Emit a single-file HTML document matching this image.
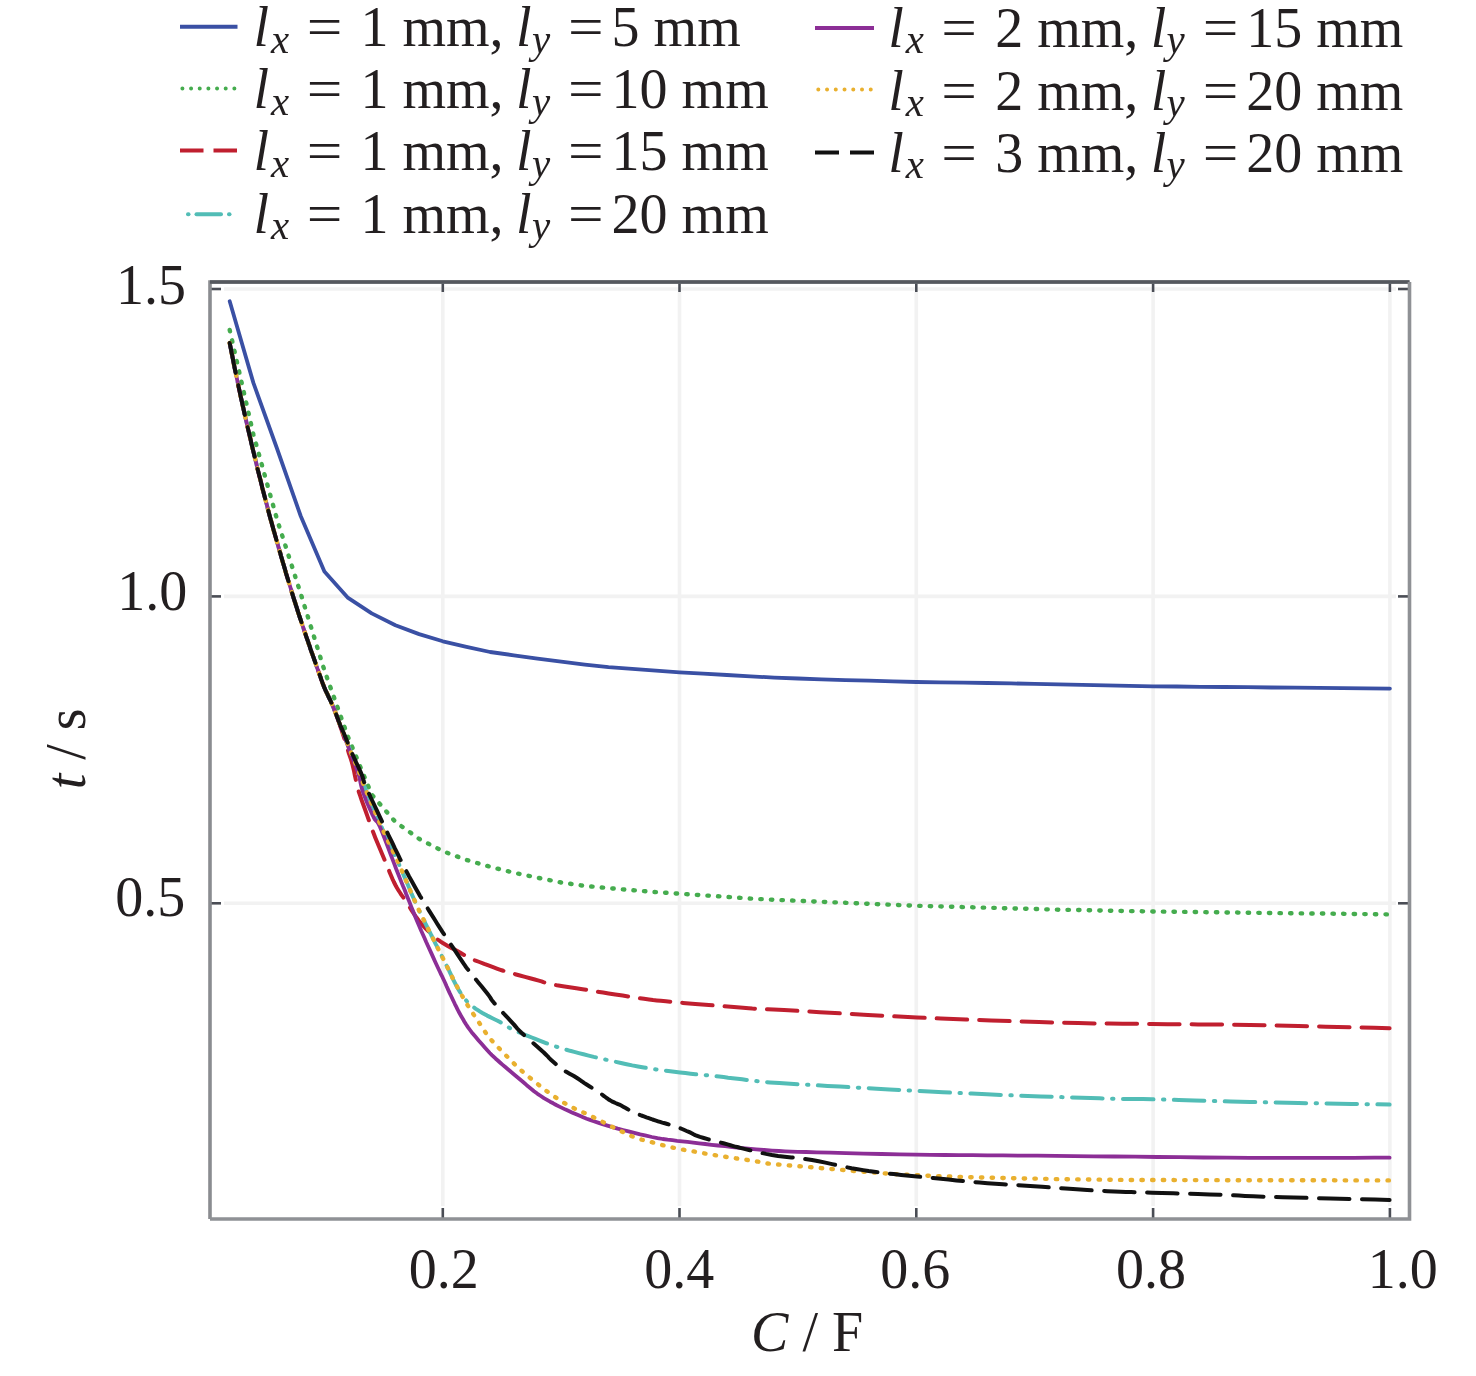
<!DOCTYPE html>
<html><head><meta charset="utf-8"><style>
html,body{margin:0;padding:0;background:#fff;}
svg{display:block;}
text{font-family:"Liberation Serif", "Times New Roman", serif;font-size:56px;fill:#231f20;}
</style></head><body>
<svg width="1476" height="1376" viewBox="0 0 1476 1376">
<rect width="1476" height="1376" fill="#ffffff"/>

<g stroke="#f2f2f2" stroke-width="3.6"><line x1="442.8" y1="292" x2="442.8" y2="1206" /><line x1="679.5" y1="292" x2="679.5" y2="1206" /><line x1="916.3" y1="292" x2="916.3" y2="1206" /><line x1="1153.1" y1="292" x2="1153.1" y2="1206" /><line x1="1389.9" y1="292" x2="1389.9" y2="1206" /><line x1="224" y1="289.0" x2="1396" y2="289.0" /><line x1="224" y1="596.4" x2="1396" y2="596.4" /><line x1="224" y1="903.3" x2="1396" y2="903.3" /></g>
<g stroke="#4a4d55" stroke-width="2.6"><line x1="442.8" y1="283" x2="442.8" y2="292" /><line x1="442.8" y1="1208" x2="442.8" y2="1218" /><line x1="679.5" y1="283" x2="679.5" y2="292" /><line x1="679.5" y1="1208" x2="679.5" y2="1218" /><line x1="916.3" y1="283" x2="916.3" y2="292" /><line x1="916.3" y1="1208" x2="916.3" y2="1218" /><line x1="1153.1" y1="283" x2="1153.1" y2="292" /><line x1="1153.1" y1="1208" x2="1153.1" y2="1218" /><line x1="1389.9" y1="283" x2="1389.9" y2="292" /><line x1="1389.9" y1="1208" x2="1389.9" y2="1218" /><line x1="210" y1="289.0" x2="221" y2="289.0" /><line x1="1398" y1="289.0" x2="1409" y2="289.0" /><line x1="210" y1="596.4" x2="221" y2="596.4" /><line x1="1398" y1="596.4" x2="1409" y2="596.4" /><line x1="210" y1="903.3" x2="221" y2="903.3" /><line x1="1398" y1="903.3" x2="1409" y2="903.3" /></g>
<path d="M210,1219 L210,282 L1409.5,282" fill="none" stroke="#8a8c90" stroke-width="3.6"/>
<path d="M210,282 L1409.5,282" fill="none" stroke="#55585e" stroke-width="3.6"/>
<path d="M1409.5,282 L1409.5,1219 L210,1219" fill="none" stroke="#8f9195" stroke-width="3.6"/>
<path d="M229.7,301.3 L253.4,382.9 L277.0,448.5 L300.7,516.0 L324.4,571.6 L348.1,597.9 L371.7,613.4 L395.4,625.2 L419.1,634.1 L442.8,641.3 L466.5,646.9 L490.1,652.0 L513.8,655.3 L537.5,658.6 L561.2,661.7 L584.8,664.6 L608.5,667.2 L632.2,668.9 L655.9,670.6 L679.6,672.4 L703.2,673.7 L726.9,675.0 L750.6,676.3 L774.3,677.6 L798.0,678.5 L821.6,679.3 L845.3,680.1 L869.0,680.7 L892.7,681.4 L916.3,682.0 L940.0,682.3 L963.7,682.6 L987.4,683.0 L1011.1,683.4 L1034.7,683.9 L1058.4,684.4 L1082.1,684.9 L1105.8,685.4 L1129.4,685.8 L1153.1,686.3 L1176.8,686.5 L1200.5,686.8 L1224.2,687.0 L1247.8,687.2 L1271.5,687.5 L1295.2,687.7 L1318.9,687.9 L1342.5,688.1 L1366.2,688.4 L1389.9,688.6" fill="none" stroke="#3a50a4" stroke-width="3.8" stroke-linejoin="round" stroke-linecap="round"/>
<path d="M229.7,330.0 L253.4,434.5 L277.0,519.3 L300.7,593.6 L324.4,670.3 L348.1,737.1 L371.7,794.6 L395.4,821.9 L419.1,838.8 L442.8,851.2 L466.5,859.9 L490.1,866.8 L513.8,872.7 L537.5,877.7 L561.2,882.5 L584.8,885.9 L608.5,888.1 L632.2,890.2 L655.9,892.1 L679.6,893.7 L703.2,895.3 L726.9,896.9 L750.6,898.6 L774.3,899.8 L798.0,900.8 L821.6,901.8 L845.3,902.8 L869.0,903.8 L892.7,904.8 L916.3,905.8 L940.0,906.4 L963.7,907.1 L987.4,907.7 L1011.1,908.4 L1034.7,909.0 L1058.4,909.7 L1082.1,910.1 L1105.8,910.6 L1129.4,911.1 L1153.1,911.5 L1176.8,911.8 L1200.5,912.1 L1224.2,912.4 L1247.8,912.7 L1271.5,913.0 L1295.2,913.3 L1318.9,913.5 L1342.5,913.8 L1366.2,914.1 L1389.6,914.4" fill="none" stroke="#45ac4e" stroke-width="4.4" stroke-linejoin="round" stroke-linecap="round" stroke-dasharray="1.4 9.2"/>
<path d="M229.7,343.0 L230.3,346.2 L231.2,350.7 L232.3,356.0 L233.4,361.6 L234.5,367.3 L235.6,372.4 L236.6,377.1 L237.6,381.8 L238.5,386.4 L239.5,390.9 L240.5,395.5 L241.5,400.0 L242.5,404.5 L243.5,409.0 L244.5,413.5 L245.5,417.9 L246.5,422.3 L247.5,426.6 L248.5,430.9 L249.5,435.1 L250.5,439.3 L251.4,443.4 L252.4,447.5 L253.4,451.6 L254.4,455.7 L255.4,459.7 L256.4,463.8 L257.3,467.8 L258.3,471.8 L259.3,475.7 L260.3,479.6 L261.3,483.5 L262.2,487.4 L263.2,491.2 L264.2,495.0 L265.2,498.8 L266.2,502.6 L267.2,506.3 L268.1,510.0 L269.1,513.7 L270.1,517.4 L271.1,521.0 L272.1,524.6 L273.1,528.2 L274.1,531.8 L275.1,535.3 L276.1,538.8 L277.1,542.3 L278.1,545.8 L279.1,549.2 L280.1,552.6 L281.0,556.0 L282.0,559.4 L283.0,562.8 L284.0,566.1 L285.0,569.5 L285.9,572.8 L286.9,576.1 L287.9,579.3 L288.9,582.6 L289.9,585.8 L290.9,589.0 L291.8,592.2 L292.8,595.4 L293.8,598.6 L294.8,601.7 L295.8,604.8 L296.8,607.9 L297.7,610.9 L298.7,614.0 L299.7,617.0 L300.7,620.0 L301.7,623.0 L302.7,626.0 L303.7,629.0 L304.7,631.9 L305.7,634.9 L306.7,637.8 L307.7,640.7 L308.7,643.6 L309.7,646.4 L310.6,649.3 L311.6,652.1 L312.6,654.9 L313.6,657.7 L314.6,660.5 L315.6,663.3 L316.5,666.1 L317.5,668.9 L318.5,671.6 L319.5,674.4 L320.5,677.1 L321.4,679.9 L322.4,682.6 L323.4,685.2 L324.4,687.7 L325.4,690.1 L326.5,692.4 L327.6,694.6 L328.6,696.8 L329.6,698.9 L330.6,701.0 L331.5,703.1 L332.4,705.0 L333.2,707.0 L334.0,708.9 L334.8,710.9 L335.6,713.0 L336.4,715.2 L337.3,717.6 L338.1,719.9 L338.9,722.3 L339.7,724.7 L340.5,727.0 L341.3,729.2 L342.0,731.4 L342.7,733.6 L343.4,735.7 L344.1,737.9 L344.8,740.0 L345.5,742.1 L346.1,744.2 L346.7,746.3 L347.3,748.4 L348.0,750.4 L348.6,752.5 L349.3,754.5 L349.9,756.4 L350.6,758.3 L351.2,760.3 L351.9,762.5 L352.6,765.0 L353.3,768.0 L354.1,771.4 L354.8,775.1 L355.6,778.7 L356.3,782.1 L357.0,785.0 L357.5,787.2 L357.9,788.8 L358.3,790.1 L358.7,791.5 L359.4,793.5 L360.3,796.2 L361.7,800.3 L363.5,805.3 L365.5,810.8 L367.4,816.2 L369.2,821.2 L370.6,825.0 L371.4,827.4 L371.8,828.6 L372.0,829.3 L372.3,830.0 L372.8,831.3 L373.8,833.8 L375.3,837.7 L377.3,842.6 L379.6,848.1 L382.0,853.8 L384.3,859.2 L386.2,864.0 L388.0,868.1 L389.5,871.9 L391.0,875.5 L392.4,878.8 L393.9,882.0 L395.4,885.0 L396.9,887.8 L398.4,890.2 L399.9,892.5 L401.4,894.8 L403.1,897.2 L405.0,900.0 L407.1,903.2 L409.4,906.8 L411.8,910.6 L414.3,914.3 L416.7,917.8 L419.1,921.0 L421.4,923.8 L423.7,926.4 L426.0,928.8 L428.3,931.0 L430.5,933.1 L432.5,935.0 L434.3,936.7 L435.9,938.1 L437.4,939.3 L439.0,940.4 L440.7,941.6 L442.8,943.0 L445.3,944.5 L448.2,946.2 L451.3,947.9 L454.5,949.5 L457.4,951.1 L460.0,952.5 L462.0,953.7 L463.6,954.7 L465.1,955.6 L466.6,956.5 L468.6,957.5 L471.2,958.8 L474.9,960.3 L479.4,962.0 L484.2,963.9 L489.1,965.7 L493.7,967.4 L497.5,968.8 L500.4,969.8 L502.5,970.5 L504.3,971.1 L506.1,971.6 L508.3,972.3 L511.2,973.1 L515.2,974.2 L519.9,975.5 L525.0,976.9 L530.1,978.3 L534.8,979.5 L538.8,980.6 L541.5,981.4 L543.4,982.1 L544.9,982.6 L546.5,983.1 L548.7,983.7 L552.0,984.4 L556.9,985.3 L562.9,986.2 L569.6,987.3 L576.3,988.3 L582.5,989.2 L587.5,990.0 L591.0,990.6 L593.2,991.0 L595.0,991.3 L596.8,991.6 L599.3,992.0 L603.1,992.6 L608.6,993.5 L615.3,994.5 L622.7,995.6 L630.3,996.8 L637.6,997.9 L644.0,998.8 L649.0,999.4 L653.0,1000.0 L656.7,1000.4 L660.7,1000.8 L665.9,1001.3 L673.0,1002.0 L682.9,1002.9 L695.3,1003.9 L708.8,1005.0 L722.1,1006.1 L733.9,1007.1 L743.0,1007.8 L748.8,1008.3 L752.3,1008.6 L754.4,1008.7 L755.8,1008.9 L757.4,1009.0 L760.0,1009.1 L762.3,1009.2 L763.4,1009.2 L764.8,1009.2 L767.7,1009.3 L773.6,1009.6 L784.0,1010.1 L799.7,1011.0 L819.9,1012.2 L843.1,1013.5 L867.9,1015.0 L893.0,1016.3 L917.0,1017.5 L940.8,1018.5 L965.8,1019.5 L991.1,1020.5 L1015.7,1021.3 L1039.0,1022.1 L1060.0,1022.7 L1078.2,1023.1 L1094.2,1023.4 L1108.8,1023.6 L1122.8,1023.7 L1136.9,1023.8 L1152.0,1024.0 L1167.5,1024.2 L1182.7,1024.3 L1198.0,1024.4 L1214.0,1024.5 L1231.2,1024.7 L1250.0,1025.0 L1272.5,1025.4 L1298.6,1026.0 L1325.9,1026.7 L1351.9,1027.3 L1373.9,1027.8 L1389.6,1028.2" fill="none" stroke="#c01f2f" stroke-width="4.0" stroke-linejoin="round" stroke-linecap="round" stroke-dasharray="30.5 12"/>
<path d="M229.7,343.0 L230.3,346.2 L231.2,350.7 L232.3,356.0 L233.4,361.6 L234.5,367.3 L235.6,372.4 L236.6,377.1 L237.6,381.8 L238.5,386.4 L239.5,390.9 L240.5,395.5 L241.5,400.0 L242.5,404.5 L243.5,409.0 L244.5,413.5 L245.5,417.9 L246.5,422.3 L247.5,426.6 L248.5,430.9 L249.5,435.1 L250.5,439.3 L251.4,443.4 L252.4,447.5 L253.4,451.6 L254.4,455.7 L255.4,459.7 L256.4,463.8 L257.3,467.8 L258.3,471.8 L259.3,475.7 L260.3,479.6 L261.3,483.5 L262.2,487.4 L263.2,491.2 L264.2,495.0 L265.2,498.8 L266.2,502.6 L267.2,506.3 L268.1,510.0 L269.1,513.7 L270.1,517.4 L271.1,521.0 L272.1,524.6 L273.1,528.2 L274.1,531.8 L275.1,535.3 L276.1,538.8 L277.1,542.3 L278.1,545.8 L279.1,549.2 L280.1,552.6 L281.0,556.0 L282.0,559.4 L283.0,562.8 L284.0,566.1 L285.0,569.5 L285.9,572.8 L286.9,576.1 L287.9,579.3 L288.9,582.6 L289.9,585.8 L290.9,589.0 L291.8,592.2 L292.8,595.4 L293.8,598.6 L294.8,601.7 L295.8,604.8 L296.8,607.9 L297.7,610.9 L298.7,614.0 L299.7,617.0 L300.7,620.0 L301.7,623.0 L302.7,626.0 L303.7,629.0 L304.7,631.9 L305.7,634.9 L306.7,637.8 L307.7,640.7 L308.7,643.6 L309.7,646.4 L310.6,649.3 L311.6,652.1 L312.6,654.9 L313.6,657.7 L314.6,660.5 L315.6,663.3 L316.5,666.1 L317.5,668.9 L318.5,671.6 L319.5,674.4 L320.5,677.1 L321.4,679.9 L322.4,682.6 L323.4,685.2 L324.4,687.7 L325.4,690.1 L326.5,692.4 L327.6,694.6 L328.6,696.8 L329.6,698.9 L330.6,701.0 L331.5,703.1 L332.4,705.1 L333.2,707.1 L334.0,709.0 L334.8,711.0 L335.6,713.0 L336.4,715.0 L337.1,717.0 L337.8,719.0 L338.6,721.0 L339.3,723.0 L340.1,725.0 L340.9,727.1 L341.8,729.1 L342.6,731.2 L343.5,733.3 L344.4,735.4 L345.2,737.5 L346.0,739.6 L346.8,741.7 L347.6,743.8 L348.4,745.8 L349.2,747.9 L350.0,750.0 L350.8,752.1 L351.7,754.2 L352.6,756.2 L353.5,758.3 L354.3,760.4 L355.2,762.5 L356.1,764.6 L356.9,766.6 L357.8,768.7 L358.6,770.8 L359.5,772.9 L360.3,775.0 L361.0,776.8 L361.4,778.3 L361.9,779.8 L362.5,781.6 L363.5,784.3 L365.0,788.0 L367.1,793.2 L369.8,799.5 L372.7,806.6 L375.9,814.0 L379.0,821.3 L382.0,828.0 L384.8,834.2 L387.7,840.3 L390.5,846.2 L393.3,852.0 L396.1,857.9 L398.8,863.8 L401.4,869.8 L404.1,876.1 L406.8,882.3 L409.3,888.3 L411.6,893.9 L413.8,898.8 L415.6,902.8 L417.1,906.3 L418.5,909.2 L419.8,911.9 L421.1,914.6 L422.5,917.5 L424.0,920.5 L425.4,923.4 L426.9,926.3 L428.3,929.2 L429.8,932.1 L431.2,935.0 L432.7,937.9 L434.2,940.8 L435.6,943.8 L437.1,946.7 L438.5,949.6 L440.0,952.5 L441.5,955.4 L443.0,958.4 L444.5,961.4 L445.9,964.4 L447.4,967.2 L448.8,970.0 L450.0,972.7 L451.3,975.3 L452.4,977.8 L453.6,980.3 L454.8,982.7 L456.0,985.0 L457.3,987.3 L458.5,989.5 L459.8,991.7 L461.1,993.7 L462.4,995.7 L463.7,997.5 L465.0,999.2 L466.3,1000.6 L467.5,1002.0 L468.9,1003.3 L470.4,1004.6 L472.0,1006.0 L473.8,1007.4 L475.8,1008.8 L477.9,1010.2 L480.1,1011.6 L482.4,1013.0 L484.7,1014.3 L487.1,1015.6 L489.7,1016.9 L492.4,1018.2 L495.0,1019.5 L497.6,1020.7 L500.0,1022.0 L502.2,1023.3 L504.2,1024.5 L506.1,1025.7 L508.0,1027.0 L510.1,1028.2 L512.6,1029.5 L515.4,1030.8 L518.4,1032.1 L521.6,1033.4 L524.9,1034.8 L528.3,1036.1 L531.8,1037.5 L535.3,1038.9 L539.0,1040.3 L542.8,1041.8 L546.6,1043.3 L550.5,1044.7 L554.4,1046.0 L558.3,1047.3 L562.1,1048.5 L566.0,1049.6 L570.1,1050.8 L574.3,1051.9 L578.8,1053.1 L583.5,1054.3 L588.6,1055.6 L593.8,1056.9 L599.1,1058.1 L604.6,1059.4 L610.0,1060.6 L615.5,1061.8 L621.0,1063.0 L626.6,1064.2 L632.2,1065.4 L638.0,1066.5 L643.8,1067.5 L649.7,1068.5 L655.9,1069.4 L662.1,1070.2 L668.3,1071.0 L674.3,1071.8 L680.0,1072.5 L685.4,1073.1 L690.6,1073.7 L695.5,1074.2 L700.4,1074.6 L705.2,1075.1 L710.0,1075.6 L714.7,1076.1 L719.2,1076.6 L723.6,1077.1 L728.1,1077.7 L732.7,1078.2 L737.5,1078.8 L742.2,1079.3 L746.6,1079.9 L751.1,1080.5 L756.2,1081.1 L762.4,1081.8 L770.0,1082.4 L779.4,1083.1 L790.3,1083.8 L802.2,1084.5 L814.8,1085.2 L827.5,1085.9 L839.9,1086.6 L852.1,1087.3 L864.3,1088.0 L876.7,1088.7 L889.4,1089.4 L902.3,1090.1 L915.7,1090.8 L929.3,1091.5 L943.1,1092.2 L957.2,1092.9 L971.7,1093.6 L986.9,1094.3 L1003.0,1095.0 L1021.0,1095.7 L1040.9,1096.4 L1061.6,1097.1 L1081.5,1097.7 L1099.5,1098.3 L1114.0,1098.7 L1123.9,1099.0 L1129.9,1099.1 L1133.8,1099.1 L1137.6,1099.1 L1143.0,1099.1 L1152.0,1099.3 L1164.4,1099.6 L1178.7,1100.0 L1194.6,1100.5 L1212.0,1101.0 L1230.6,1101.5 L1250.0,1102.0 L1272.5,1102.5 L1298.6,1103.0 L1325.9,1103.5 L1351.9,1103.9 L1373.9,1104.3 L1389.6,1104.6" fill="none" stroke="#52bdb6" stroke-width="4.0" stroke-linejoin="round" stroke-linecap="round" stroke-dasharray="30.5 9.5 1.4 9.5"/>
<path d="M229.7,343.0 L230.3,346.2 L231.2,350.7 L232.3,356.0 L233.4,361.6 L234.5,367.3 L235.6,372.4 L236.6,377.1 L237.6,381.8 L238.5,386.4 L239.5,390.9 L240.5,395.5 L241.5,400.0 L242.5,404.5 L243.5,409.0 L244.5,413.5 L245.5,417.9 L246.5,422.3 L247.5,426.6 L248.5,430.9 L249.5,435.1 L250.5,439.3 L251.4,443.4 L252.4,447.5 L253.4,451.6 L254.4,455.7 L255.4,459.7 L256.4,463.8 L257.3,467.8 L258.3,471.8 L259.3,475.7 L260.3,479.6 L261.3,483.5 L262.2,487.4 L263.2,491.2 L264.2,495.0 L265.2,498.8 L266.2,502.6 L267.2,506.3 L268.1,510.0 L269.1,513.7 L270.1,517.4 L271.1,521.0 L272.1,524.6 L273.1,528.2 L274.1,531.8 L275.1,535.3 L276.1,538.8 L277.1,542.3 L278.1,545.8 L279.1,549.2 L280.1,552.6 L281.0,556.0 L282.0,559.4 L283.0,562.8 L284.0,566.1 L285.0,569.5 L285.9,572.8 L286.9,576.1 L287.9,579.3 L288.9,582.6 L289.9,585.8 L290.9,589.0 L291.8,592.2 L292.8,595.4 L293.8,598.6 L294.8,601.7 L295.8,604.8 L296.8,607.9 L297.7,610.9 L298.7,614.0 L299.7,617.0 L300.7,620.0 L301.7,623.0 L302.7,626.0 L303.7,629.0 L304.7,631.9 L305.7,634.9 L306.7,637.8 L307.7,640.7 L308.7,643.6 L309.7,646.4 L310.6,649.3 L311.6,652.1 L312.6,654.9 L313.6,657.7 L314.6,660.5 L315.6,663.3 L316.5,666.1 L317.5,668.9 L318.5,671.6 L319.5,674.4 L320.5,677.1 L321.4,679.9 L322.4,682.6 L323.4,685.2 L324.4,687.7 L325.4,690.1 L326.5,692.4 L327.6,694.6 L328.6,696.8 L329.6,698.9 L330.6,701.0 L331.5,703.1 L332.4,705.1 L333.2,707.1 L334.0,709.0 L334.8,711.0 L335.6,713.0 L336.4,715.0 L337.1,717.0 L337.8,719.0 L338.5,721.0 L339.3,723.0 L340.0,725.0 L340.8,727.1 L341.6,729.1 L342.4,731.2 L343.2,733.3 L344.0,735.4 L344.8,737.5 L345.6,739.6 L346.3,741.7 L347.1,743.8 L347.9,745.8 L348.6,747.9 L349.4,750.0 L350.2,752.1 L351.0,754.2 L351.8,756.2 L352.6,758.3 L353.4,760.4 L354.2,762.5 L355.0,764.5 L355.8,766.5 L356.5,768.4 L357.3,770.5 L358.1,772.6 L358.8,775.0 L359.5,777.5 L360.0,780.2 L360.6,783.0 L361.2,785.9 L362.0,789.1 L363.1,792.5 L364.6,796.4 L366.3,800.9 L368.3,805.5 L370.3,810.0 L372.2,814.1 L373.8,817.5 L374.9,819.6 L375.8,820.6 L376.5,821.2 L377.3,822.0 L378.4,823.7 L380.0,827.0 L382.2,832.3 L384.9,839.2 L387.9,847.0 L390.9,855.1 L393.8,862.6 L396.2,869.0 L398.3,874.2 L400.0,878.6 L401.6,882.6 L403.1,886.3 L404.7,890.0 L406.2,894.0 L407.9,898.2 L409.6,902.4 L411.2,906.6 L412.9,910.8 L414.6,914.9 L416.2,919.0 L417.9,923.0 L419.6,926.9 L421.2,930.7 L422.9,934.5 L424.6,938.2 L426.2,942.0 L427.9,945.8 L429.7,949.6 L431.4,953.4 L433.1,957.1 L434.7,960.7 L436.2,964.0 L437.6,967.0 L438.9,969.7 L440.1,972.2 L441.2,974.7 L442.5,977.2 L443.8,980.0 L445.2,983.0 L446.6,986.3 L448.1,989.6 L449.6,992.9 L451.1,996.0 L452.5,999.0 L453.8,1001.7 L455.0,1004.3 L456.2,1006.7 L457.4,1009.1 L458.6,1011.5 L460.0,1014.0 L461.4,1016.6 L462.9,1019.1 L464.4,1021.7 L466.0,1024.3 L467.9,1027.1 L470.0,1030.0 L472.5,1033.3 L475.5,1036.8 L478.6,1040.5 L481.8,1044.1 L484.8,1047.5 L487.5,1050.5 L489.8,1053.0 L491.9,1055.1 L493.8,1056.9 L495.7,1058.7 L497.8,1060.5 L500.0,1062.5 L502.4,1064.6 L505.0,1066.8 L507.6,1069.0 L510.3,1071.3 L513.2,1073.7 L516.2,1076.2 L519.5,1079.0 L523.1,1082.0 L526.7,1085.2 L530.4,1088.2 L534.0,1091.2 L537.5,1093.8 L540.8,1096.0 L543.9,1098.1 L547.0,1099.9 L550.1,1101.7 L553.2,1103.3 L556.2,1105.0 L559.4,1106.6 L562.5,1108.1 L565.6,1109.6 L568.8,1111.0 L571.9,1112.4 L575.0,1113.8 L578.0,1115.1 L580.9,1116.3 L583.7,1117.5 L586.7,1118.7 L590.0,1119.9 L593.8,1121.2 L598.0,1122.6 L602.5,1124.1 L607.4,1125.6 L612.5,1127.1 L617.7,1128.6 L623.0,1130.0 L628.5,1131.4 L634.3,1132.9 L640.2,1134.4 L646.1,1135.7 L651.9,1137.0 L657.5,1138.1 L662.7,1139.0 L667.6,1139.7 L672.3,1140.2 L677.1,1140.8 L682.1,1141.3 L687.5,1141.9 L693.2,1142.6 L699.1,1143.3 L705.2,1144.0 L711.5,1144.8 L718.1,1145.5 L725.0,1146.2 L732.3,1147.0 L740.1,1147.8 L748.1,1148.6 L756.2,1149.3 L764.2,1150.0 L772.0,1150.6 L778.9,1151.0 L785.0,1151.3 L791.0,1151.6 L797.8,1151.8 L806.0,1152.0 L816.6,1152.3 L830.1,1152.7 L846.0,1153.1 L863.5,1153.6 L881.5,1154.0 L899.2,1154.4 L915.7,1154.7 L930.7,1154.9 L944.8,1155.0 L958.6,1155.1 L972.6,1155.2 L987.2,1155.3 L1003.0,1155.4 L1019.8,1155.6 L1037.3,1155.7 L1055.5,1155.9 L1074.3,1156.1 L1093.8,1156.3 L1114.0,1156.5 L1135.2,1156.7 L1157.3,1157.0 L1180.2,1157.2 L1203.5,1157.5 L1226.8,1157.7 L1250.0,1157.8 L1274.7,1157.9 L1301.4,1157.9 L1328.3,1157.8 L1353.3,1157.8 L1374.4,1157.7 L1389.6,1157.7" fill="none" stroke="#8c2e96" stroke-width="3.8" stroke-linejoin="round" stroke-linecap="round"/>
<path d="M229.7,343.0 L230.3,346.2 L231.2,350.7 L232.3,356.0 L233.4,361.6 L234.5,367.3 L235.6,372.4 L236.6,377.1 L237.6,381.8 L238.5,386.4 L239.5,390.9 L240.5,395.5 L241.5,400.0 L242.5,404.5 L243.5,409.0 L244.5,413.5 L245.5,417.9 L246.5,422.3 L247.5,426.6 L248.5,430.9 L249.5,435.1 L250.5,439.3 L251.4,443.4 L252.4,447.5 L253.4,451.6 L254.4,455.7 L255.4,459.7 L256.4,463.8 L257.3,467.8 L258.3,471.8 L259.3,475.7 L260.3,479.6 L261.3,483.5 L262.2,487.4 L263.2,491.2 L264.2,495.0 L265.2,498.8 L266.2,502.6 L267.2,506.3 L268.1,510.0 L269.1,513.7 L270.1,517.4 L271.1,521.0 L272.1,524.6 L273.1,528.2 L274.1,531.8 L275.1,535.3 L276.1,538.8 L277.1,542.3 L278.1,545.8 L279.1,549.2 L280.1,552.6 L281.0,556.0 L282.0,559.4 L283.0,562.8 L284.0,566.1 L285.0,569.5 L285.9,572.8 L286.9,576.1 L287.9,579.3 L288.9,582.6 L289.9,585.8 L290.9,589.0 L291.8,592.2 L292.8,595.4 L293.8,598.6 L294.8,601.7 L295.8,604.8 L296.8,607.9 L297.7,610.9 L298.7,614.0 L299.7,617.0 L300.7,620.0 L301.7,623.0 L302.7,626.0 L303.7,629.0 L304.7,631.9 L305.7,634.9 L306.7,637.8 L307.7,640.7 L308.7,643.6 L309.7,646.4 L310.6,649.3 L311.6,652.1 L312.6,654.9 L313.6,657.7 L314.6,660.5 L315.6,663.3 L316.5,666.1 L317.5,668.9 L318.5,671.6 L319.5,674.4 L320.5,677.1 L321.4,679.9 L322.4,682.6 L323.4,685.2 L324.4,687.7 L325.4,690.1 L326.5,692.4 L327.6,694.6 L328.6,696.8 L329.6,698.9 L330.6,701.0 L331.5,703.1 L332.4,705.1 L333.2,707.1 L334.0,709.0 L334.8,711.0 L335.6,713.0 L336.4,715.0 L337.1,717.0 L337.8,719.0 L338.6,721.0 L339.3,723.0 L340.1,725.0 L340.9,727.1 L341.8,729.1 L342.6,731.2 L343.5,733.3 L344.4,735.4 L345.2,737.5 L346.0,739.6 L346.8,741.7 L347.6,743.8 L348.4,745.8 L349.2,747.9 L350.0,750.0 L350.8,752.1 L351.7,754.2 L352.6,756.2 L353.5,758.3 L354.3,760.4 L355.2,762.5 L356.1,764.6 L356.9,766.6 L357.8,768.7 L358.6,770.8 L359.5,772.9 L360.3,775.0 L361.0,776.8 L361.4,778.3 L361.9,779.8 L362.5,781.6 L363.5,784.3 L365.0,788.0 L367.1,793.2 L369.8,799.5 L372.7,806.6 L375.9,814.0 L379.0,821.3 L382.0,828.0 L384.8,834.2 L387.7,840.3 L390.5,846.2 L393.3,852.0 L396.1,857.9 L398.8,863.8 L401.4,869.8 L404.1,876.1 L406.8,882.3 L409.3,888.3 L411.6,893.9 L413.8,898.8 L415.6,902.8 L417.1,906.3 L418.5,909.2 L419.8,911.9 L421.1,914.6 L422.5,917.5 L424.0,920.5 L425.4,923.4 L426.9,926.3 L428.3,929.2 L429.8,932.1 L431.2,935.0 L432.7,937.9 L434.2,940.8 L435.6,943.8 L437.1,946.7 L438.5,949.6 L440.0,952.5 L441.5,955.4 L442.9,958.3 L444.4,961.2 L445.8,964.2 L447.3,967.1 L448.8,970.0 L450.2,972.9 L451.6,975.8 L453.0,978.8 L454.5,981.7 L456.0,984.6 L457.5,987.5 L459.1,990.4 L460.7,993.3 L462.3,996.2 L464.0,999.1 L465.7,1002.0 L467.5,1005.0 L469.4,1008.0 L471.4,1011.1 L473.4,1014.2 L475.5,1017.2 L477.5,1020.2 L479.4,1023.1 L481.2,1025.8 L482.9,1028.4 L484.5,1030.9 L486.2,1033.4 L488.0,1035.9 L490.0,1038.5 L492.3,1041.1 L494.7,1043.8 L497.3,1046.5 L499.9,1049.2 L502.5,1051.8 L505.0,1054.4 L507.4,1056.9 L509.8,1059.3 L512.2,1061.7 L514.5,1064.1 L516.9,1066.4 L519.4,1068.8 L521.9,1071.0 L524.5,1073.2 L527.1,1075.4 L529.7,1077.6 L532.3,1079.8 L535.0,1081.9 L537.7,1084.0 L540.3,1086.2 L543.0,1088.3 L545.7,1090.4 L548.5,1092.4 L551.2,1094.4 L554.1,1096.4 L556.9,1098.3 L559.8,1100.2 L562.8,1102.1 L565.7,1103.9 L568.8,1105.6 L571.8,1107.2 L574.9,1108.7 L578.0,1110.1 L581.2,1111.5 L584.4,1112.9 L587.5,1114.4 L590.7,1116.0 L594.1,1117.6 L597.4,1119.3 L600.6,1120.9 L603.6,1122.4 L606.2,1123.8 L608.3,1124.8 L609.9,1125.6 L611.2,1126.3 L612.6,1127.0 L614.2,1127.8 L616.2,1128.8 L618.9,1130.0 L621.8,1131.5 L625.0,1133.1 L628.3,1134.7 L631.7,1136.2 L635.0,1137.5 L638.3,1138.6 L641.6,1139.6 L644.9,1140.5 L648.3,1141.4 L651.7,1142.2 L655.0,1143.1 L658.3,1144.0 L661.6,1144.9 L664.9,1145.7 L668.2,1146.5 L671.6,1147.3 L675.0,1148.1 L678.5,1148.8 L682.0,1149.5 L685.5,1150.1 L689.1,1150.7 L692.7,1151.3 L696.2,1151.9 L699.8,1152.5 L703.3,1153.2 L706.9,1153.8 L710.4,1154.4 L714.0,1155.0 L717.5,1155.6 L721.0,1156.2 L724.6,1156.7 L728.1,1157.2 L731.7,1157.7 L735.2,1158.2 L738.8,1158.8 L742.4,1159.3 L746.2,1159.8 L750.1,1160.4 L753.8,1160.9 L757.1,1161.5 L760.0,1161.9 L761.9,1162.3 L762.8,1162.5 L763.4,1162.8 L764.4,1163.0 L766.3,1163.3 L770.0,1163.8 L775.6,1164.3 L782.8,1164.9 L791.0,1165.6 L799.7,1166.3 L808.4,1167.0 L816.6,1167.7 L824.3,1168.4 L831.9,1169.0 L839.5,1169.7 L847.2,1170.4 L855.1,1171.1 L863.2,1171.7 L871.2,1172.3 L879.0,1172.9 L886.9,1173.5 L895.4,1174.1 L904.9,1174.7 L915.7,1175.2 L928.0,1175.7 L941.3,1176.2 L955.7,1176.7 L970.9,1177.2 L986.7,1177.6 L1003.0,1178.0 L1019.8,1178.4 L1037.3,1178.7 L1055.5,1179.1 L1074.3,1179.3 L1093.8,1179.6 L1114.0,1179.8 L1135.2,1180.0 L1157.3,1180.0 L1180.2,1180.1 L1203.5,1180.1 L1226.8,1180.2 L1250.0,1180.2 L1274.7,1180.2 L1301.4,1180.3 L1328.3,1180.3 L1353.3,1180.4 L1374.4,1180.4 L1389.6,1180.4" fill="none" stroke="#e9b02f" stroke-width="4.4" stroke-linejoin="round" stroke-linecap="round" stroke-dasharray="1.4 9.3"/>
<path d="M229.7,343.0 L230.3,346.2 L231.2,350.7 L232.3,356.0 L233.4,361.6 L234.5,367.3 L235.6,372.4 L236.6,377.1 L237.6,381.8 L238.5,386.4 L239.5,390.9 L240.5,395.5 L241.5,400.0 L242.5,404.5 L243.5,409.0 L244.5,413.5 L245.5,417.9 L246.5,422.3 L247.5,426.6 L248.5,430.9 L249.5,435.1 L250.5,439.3 L251.4,443.4 L252.4,447.5 L253.4,451.6 L254.4,455.7 L255.4,459.7 L256.4,463.8 L257.3,467.8 L258.3,471.8 L259.3,475.7 L260.3,479.6 L261.3,483.5 L262.2,487.4 L263.2,491.2 L264.2,495.0 L265.2,498.8 L266.2,502.6 L267.2,506.3 L268.1,510.0 L269.1,513.7 L270.1,517.4 L271.1,521.0 L272.1,524.6 L273.1,528.2 L274.1,531.8 L275.1,535.3 L276.1,538.8 L277.1,542.3 L278.1,545.8 L279.1,549.2 L280.1,552.6 L281.0,556.0 L282.0,559.4 L283.0,562.8 L284.0,566.1 L285.0,569.5 L285.9,572.8 L286.9,576.1 L287.9,579.3 L288.9,582.6 L289.9,585.8 L290.9,589.0 L291.8,592.2 L292.8,595.4 L293.8,598.6 L294.8,601.7 L295.8,604.8 L296.8,607.9 L297.7,610.9 L298.7,614.0 L299.7,617.0 L300.7,620.0 L301.7,623.0 L302.7,626.0 L303.7,629.0 L304.7,631.9 L305.7,634.9 L306.7,637.8 L307.7,640.7 L308.7,643.6 L309.7,646.4 L310.6,649.3 L311.6,652.1 L312.6,654.9 L313.6,657.7 L314.6,660.5 L315.6,663.3 L316.5,666.1 L317.5,668.9 L318.5,671.6 L319.5,674.4 L320.5,677.1 L321.4,679.9 L322.4,682.6 L323.4,685.2 L324.4,687.7 L325.4,690.1 L326.5,692.4 L327.6,694.6 L328.6,696.8 L329.6,698.9 L330.6,701.0 L331.5,703.1 L332.4,705.1 L333.2,707.1 L334.0,709.0 L334.8,711.0 L335.6,713.0 L336.4,715.0 L337.1,717.0 L337.9,719.0 L338.6,721.0 L339.4,723.0 L340.2,725.0 L341.1,727.1 L342.0,729.1 L342.9,731.2 L343.8,733.3 L344.7,735.4 L345.6,737.5 L346.4,739.6 L347.3,741.7 L348.1,743.8 L348.9,745.8 L349.7,747.9 L350.6,750.0 L351.5,752.1 L352.4,754.2 L353.4,756.2 L354.3,758.3 L355.3,760.4 L356.2,762.5 L357.2,764.6 L358.2,766.7 L359.2,768.8 L360.1,770.8 L361.0,772.9 L361.9,775.0 L362.6,776.8 L363.0,778.3 L363.4,779.8 L364.0,781.7 L364.9,784.1 L366.2,787.5 L368.3,792.0 L370.7,797.5 L373.6,803.5 L376.6,809.9 L379.6,816.3 L382.5,822.5 L385.5,828.8 L388.7,835.5 L392.0,842.2 L395.0,848.6 L397.8,854.2 L400.0,858.8 L401.5,861.8 L402.3,863.5 L402.7,864.5 L403.1,865.3 L403.8,866.5 L405.0,868.8 L406.9,872.2 L409.2,876.6 L411.8,881.3 L414.4,886.0 L416.8,890.3 L418.8,893.8 L420.0,896.0 L420.9,897.4 L421.5,898.4 L422.1,899.4 L423.0,900.8 L424.4,903.1 L426.5,906.5 L429.2,910.9 L432.2,915.6 L435.1,920.3 L437.8,924.7 L440.0,928.1 L441.5,930.4 L442.4,931.8 L443.1,932.8 L443.8,933.8 L444.7,935.2 L446.2,937.5 L448.5,940.9 L451.3,945.1 L454.4,949.7 L457.5,954.4 L460.3,958.6 L462.5,961.9 L464.0,964.1 L464.9,965.4 L465.5,966.3 L466.1,967.2 L467.1,968.5 L468.8,970.6 L471.3,973.8 L474.5,977.8 L478.1,982.2 L481.7,986.5 L484.9,990.5 L487.5,993.8 L489.1,995.9 L490.1,997.3 L490.7,998.4 L491.3,999.4 L492.3,1000.7 L494.0,1002.8 L496.7,1005.8 L500.1,1009.6 L503.8,1013.7 L507.6,1017.7 L511.0,1021.4 L513.8,1024.4 L515.5,1026.4 L516.6,1027.7 L517.3,1028.6 L518.1,1029.4 L519.3,1030.6 L521.2,1032.5 L524.3,1035.3 L528.2,1038.7 L532.5,1042.5 L536.8,1046.3 L540.7,1049.8 L543.8,1052.5 L545.8,1054.5 L547.2,1055.9 L548.2,1056.9 L549.0,1057.8 L550.0,1058.8 L551.2,1060.0 L552.9,1061.5 L554.6,1063.0 L556.5,1064.7 L558.4,1066.3 L560.4,1067.9 L562.5,1069.4 L564.7,1070.9 L567.1,1072.3 L569.6,1073.7 L572.0,1075.0 L574.3,1076.3 L576.2,1077.5 L577.8,1078.5 L579.1,1079.4 L580.2,1080.2 L581.3,1081.0 L582.7,1081.9 L584.4,1083.1 L586.6,1084.5 L589.3,1086.2 L592.1,1088.0 L594.9,1089.8 L597.6,1091.5 L600.0,1093.1 L602.0,1094.5 L603.7,1095.8 L605.3,1097.0 L606.8,1098.1 L608.3,1099.2 L610.0,1100.3 L611.8,1101.3 L613.6,1102.1 L615.5,1103.0 L617.4,1103.8 L619.3,1104.6 L621.2,1105.6 L623.2,1106.7 L625.2,1107.8 L627.3,1109.0 L629.4,1110.2 L631.5,1111.4 L633.8,1112.5 L636.1,1113.5 L638.7,1114.5 L641.3,1115.5 L643.9,1116.4 L646.4,1117.3 L648.8,1118.1 L650.8,1118.8 L652.6,1119.5 L654.4,1120.1 L656.1,1120.7 L658.0,1121.3 L660.0,1121.9 L662.3,1122.6 L664.8,1123.3 L667.3,1124.0 L670.0,1124.7 L672.5,1125.4 L675.0,1126.2 L677.4,1127.1 L679.8,1128.1 L682.1,1129.0 L684.4,1130.0 L686.6,1131.0 L688.8,1131.9 L690.6,1132.7 L692.1,1133.5 L693.5,1134.3 L695.1,1135.1 L697.2,1135.9 L700.0,1136.9 L703.8,1138.0 L708.5,1139.4 L713.6,1140.7 L718.8,1142.1 L723.5,1143.3 L727.5,1144.4 L730.4,1145.2 L732.5,1145.8 L734.2,1146.3 L735.9,1146.8 L738.1,1147.3 L741.2,1148.1 L745.3,1149.1 L749.9,1150.2 L755.0,1151.5 L760.4,1152.7 L766.1,1153.9 L772.0,1155.0 L778.1,1155.9 L784.7,1156.7 L791.4,1157.4 L798.4,1158.2 L805.2,1159.0 L812.0,1160.0 L818.7,1161.2 L825.4,1162.6 L832.1,1164.1 L838.8,1165.6 L845.3,1167.0 L851.6,1168.2 L857.6,1169.2 L863.1,1170.1 L868.6,1171.0 L874.2,1171.7 L880.1,1172.5 L886.5,1173.3 L893.6,1174.1 L901.2,1174.9 L909.1,1175.7 L917.1,1176.5 L925.2,1177.2 L933.1,1178.0 L940.9,1178.8 L948.6,1179.6 L956.4,1180.4 L964.2,1181.2 L971.9,1181.9 L979.7,1182.6 L987.5,1183.2 L995.2,1183.7 L1003.0,1184.2 L1010.8,1184.7 L1018.5,1185.2 L1026.3,1185.7 L1034.1,1186.3 L1042.1,1186.8 L1050.0,1187.4 L1057.9,1188.0 L1065.5,1188.6 L1073.0,1189.1 L1080.2,1189.6 L1087.2,1190.0 L1094.0,1190.4 L1100.8,1190.8 L1107.4,1191.2 L1114.0,1191.5 L1120.2,1191.8 L1125.8,1192.0 L1131.3,1192.1 L1137.2,1192.3 L1144.0,1192.5 L1152.0,1192.7 L1161.9,1193.0 L1173.3,1193.3 L1185.6,1193.7 L1197.9,1194.0 L1209.7,1194.4 L1220.0,1194.7 L1227.9,1195.0 L1233.8,1195.3 L1239.0,1195.6 L1245.0,1195.9 L1253.2,1196.3 L1265.0,1196.7 L1282.6,1197.2 L1305.3,1197.8 L1330.1,1198.5 L1354.3,1199.1 L1375.1,1199.6 L1389.6,1200.0" fill="none" stroke="#111111" stroke-width="4.0" stroke-linejoin="round" stroke-linecap="round" stroke-dasharray="30.5 12.5"/>
<text x="443.70" y="1288.25" text-anchor="middle">0.2</text>
<text x="679.30" y="1288.25" text-anchor="middle">0.4</text>
<text x="915.35" y="1288.25" text-anchor="middle">0.6</text>
<text x="1151.05" y="1288.25" text-anchor="middle">0.8</text>
<text x="1402.65" y="1288.25" text-anchor="middle">1.0</text>
<text x="115.9" y="303.9">1.5</text>
<text x="117.15" y="610.1">1.0</text>
<text x="115.3" y="916.2">0.5</text>
<text x="751.1" y="1350.7"><tspan font-style="italic">C</tspan> / F</text>
<text transform="translate(85.3,789.3) rotate(-90)"><tspan font-style="italic">t</tspan> / s</text>
<line x1="180" y1="26.8" x2="237.5" y2="26.8" stroke="#3a50a4" stroke-width="4"/>
<text x="253.6" y="46.3" font-style="italic">l</text>
<text x="271.0" y="52.9" font-style="italic" style="font-size:41px">x</text>
<text transform="translate(306.65,46.3) scale(1.128,1)">=</text>
<text x="360.5" y="46.3">1 mm,</text>
<text x="516.0" y="46.3" font-style="italic">l</text>
<text x="531.9" y="52.9" font-style="italic" style="font-size:41px">y</text>
<text transform="translate(567.95,46.3) scale(1.128,1)">=</text>
<text x="611.6" y="46.3">5 mm</text>
<line x1="182.4" y1="88.5" x2="234.4" y2="88.5" stroke="#45ac4e" stroke-width="4" stroke-linecap="round" stroke-dasharray="0.01 8.65"/>
<text x="253.6" y="108.1" font-style="italic">l</text>
<text x="271.0" y="114.7" font-style="italic" style="font-size:41px">x</text>
<text transform="translate(306.65,108.1) scale(1.128,1)">=</text>
<text x="360.5" y="108.1">1 mm,</text>
<text x="516.0" y="108.1" font-style="italic">l</text>
<text x="531.9" y="114.7" font-style="italic" style="font-size:41px">y</text>
<text transform="translate(567.95,108.1) scale(1.128,1)">=</text>
<text x="611.6" y="108.1">10 mm</text>
<line x1="180" y1="150.6" x2="237.5" y2="150.6" stroke="#c01f2f" stroke-width="4" stroke-dasharray="23.5 10"/>
<text x="253.6" y="170.4" font-style="italic">l</text>
<text x="271.0" y="177.0" font-style="italic" style="font-size:41px">x</text>
<text transform="translate(306.65,170.4) scale(1.128,1)">=</text>
<text x="360.5" y="170.4">1 mm,</text>
<text x="516.0" y="170.4" font-style="italic">l</text>
<text x="531.9" y="177.0" font-style="italic" style="font-size:41px">y</text>
<text transform="translate(567.95,170.4) scale(1.128,1)">=</text>
<text x="611.6" y="170.4">15 mm</text>
<g stroke="#52bdb6" stroke-width="4" stroke-linecap="round"><line x1="188" y1="214.2" x2="188.5" y2="214.2"/><line x1="196.5" y1="214.2" x2="221" y2="214.2"/><line x1="229" y1="214.2" x2="229.5" y2="214.2"/></g>
<text x="253.6" y="232.6" font-style="italic">l</text>
<text x="271.0" y="239.2" font-style="italic" style="font-size:41px">x</text>
<text transform="translate(306.65,232.6) scale(1.128,1)">=</text>
<text x="360.5" y="232.6">1 mm,</text>
<text x="516.0" y="232.6" font-style="italic">l</text>
<text x="531.9" y="239.2" font-style="italic" style="font-size:41px">y</text>
<text transform="translate(567.95,232.6) scale(1.128,1)">=</text>
<text x="611.6" y="232.6">20 mm</text>
<line x1="815" y1="27.9" x2="874" y2="27.9" stroke="#8c2e96" stroke-width="4"/>
<text x="888.3" y="46.5" font-style="italic">l</text>
<text x="905.7" y="53.1" font-style="italic" style="font-size:41px">x</text>
<text transform="translate(941.35,46.5) scale(1.128,1)">=</text>
<text x="995.2" y="46.5">2 mm,</text>
<text x="1150.7" y="46.5" font-style="italic">l</text>
<text x="1166.6" y="53.1" font-style="italic" style="font-size:41px">y</text>
<text transform="translate(1202.65,46.5) scale(1.128,1)">=</text>
<text x="1246.3" y="46.5">15 mm</text>
<line x1="818.3" y1="89.4" x2="870.8" y2="89.4" stroke="#e9b02f" stroke-width="4" stroke-linecap="round" stroke-dasharray="0.01 8.73"/>
<text x="888.3" y="109.8" font-style="italic">l</text>
<text x="905.7" y="116.4" font-style="italic" style="font-size:41px">x</text>
<text transform="translate(941.35,109.8) scale(1.128,1)">=</text>
<text x="995.2" y="109.8">2 mm,</text>
<text x="1150.7" y="109.8" font-style="italic">l</text>
<text x="1166.6" y="116.4" font-style="italic" style="font-size:41px">y</text>
<text transform="translate(1202.65,109.8) scale(1.128,1)">=</text>
<text x="1246.3" y="109.8">20 mm</text>
<line x1="815" y1="152.5" x2="874" y2="152.5" stroke="#111111" stroke-width="4" stroke-dasharray="24 11"/>
<text x="888.3" y="171.8" font-style="italic">l</text>
<text x="905.7" y="178.4" font-style="italic" style="font-size:41px">x</text>
<text transform="translate(941.35,171.8) scale(1.128,1)">=</text>
<text x="995.2" y="171.8">3 mm,</text>
<text x="1150.7" y="171.8" font-style="italic">l</text>
<text x="1166.6" y="178.4" font-style="italic" style="font-size:41px">y</text>
<text transform="translate(1202.65,171.8) scale(1.128,1)">=</text>
<text x="1246.3" y="171.8">20 mm</text>
</svg></body></html>
